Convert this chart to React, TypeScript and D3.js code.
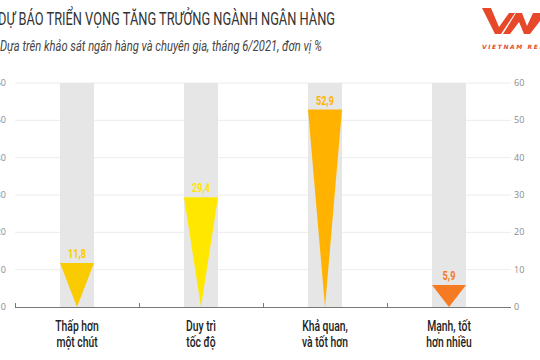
import React, { useEffect, useRef } from 'react';
import * as d3 from 'd3';

// data
const categories = [
  ['Thấp hơn', 'một chút'],
  ['Duy trì', 'tốc độ'],
  ['Khả quan,', 'và tốt hơn'],
  ['Mạnh, tốt', 'hơn nhiều'],
];
const values = [11.8, 29.4, 52.9, 5.9];
const valueLabels = ['11,8', '29,4', '52,9', '5,9'];
const colors = ['#f9cb00', '#ffe700', '#ffb300', '#f57a22'];
const yTicks = [0, 10, 20, 30, 40, 50, 60];

const W = 540;
const H = 360;
const font = "Roboto, 'Noto Sans', sans-serif";

const App: React.FC = () => {
  const ref = useRef<SVGSVGElement>(null);

  useEffect(() => {
    const svg = d3.select(ref.current);
    svg.selectAll('*').remove();

    const x = d3.scaleBand<number>().domain(d3.range(4)).range([15, 511]);
    const y = d3.scaleLinear().domain([0, 60]).range([307, 83]);
    const colW = x.bandwidth() * 0.274;
    const cx = (i: number) => x(i)! + x.bandwidth() / 2;

    // title + subtitle (condensed look via textLength)
    svg.append('text')
      .attr('x', -2).attr('y', 25)
      .attr('font-family', font).attr('font-size', 18.5)
      .attr('fill', '#333')
      .attr('textLength', 337).attr('lengthAdjust', 'spacingAndGlyphs')
      .text('DỰ BÁO TRIỂN VỌNG TĂNG TRƯỞNG NGÀNH NGÂN HÀNG');
    svg.append('text')
      .attr('x', 0).attr('y', 51)
      .attr('font-family', font).attr('font-size', 14)
      .attr('font-style', 'italic')
      .attr('fill', '#444')
      .attr('textLength', 322).attr('lengthAdjust', 'spacingAndGlyphs')
      .text('Dựa trên khảo sát ngân hàng và chuyên gia, tháng 6/2021, đơn vị %');

    // logo
    const logo = svg.append('g').attr('fill', '#e8482a');
    logo.append('path').attr('d', 'M482,8 L491,8 L499,27 L509,13 L515,13 L501,34 L495,34 Z');
    logo.append('path').attr('d', 'M503,34 L516,13 L522,13 L527,26 L533,13 L540,13 L540,21 L530,34 L524,34 L519,22 L510,34 Z');
    svg.append('text')
      .attr('x', 482).attr('y', 49)
      .attr('font-family', 'DejaVu Sans, sans-serif').attr('font-size', 6)
      .attr('font-weight', 'bold').attr('font-style', 'italic')
      .attr('letter-spacing', 1.6)
      .attr('fill', '#e8482a')
      .text('VIETNAM REPORT');

    // gridlines
    svg.append('g')
      .selectAll('line')
      .data(yTicks.filter(d => d > 0))
      .enter()
      .append('line')
      .attr('x1', 15).attr('x2', 511)
      .attr('y1', d => y(d)).attr('y2', d => y(d))
      .attr('stroke', '#ececec').attr('stroke-width', 1);

    // y labels, both sides
    const yLab = (xPos: number, anchor: string) =>
      svg.append('g')
        .selectAll('text')
        .data(yTicks)
        .enter()
        .append('text')
        .attr('x', xPos).attr('y', d => y(d) + 3)
        .attr('text-anchor', anchor)
        .attr('font-family', "'Open Sans', sans-serif").attr('font-size', 9)
        .attr('fill', '#8a8a8a')
        .text(d => d);
    yLab(6, 'end');
    yLab(514, 'start');

    // gray columns
    svg.append('g')
      .selectAll('rect')
      .data(values)
      .enter()
      .append('rect')
      .attr('x', (d, i) => cx(i) - colW / 2)
      .attr('y', y(60))
      .attr('width', colW)
      .attr('height', y(0) - y(60))
      .attr('fill', '#e6e6e6');

    // triangles
    svg.append('g')
      .selectAll('path')
      .data(values)
      .enter()
      .append('path')
      .attr('d', (d, i) => {
        const p = d3.path();
        p.moveTo(cx(i) - colW / 2, y(d));
        p.lineTo(cx(i) + colW / 2, y(d));
        p.lineTo(cx(i), y(0));
        p.closePath();
        return p.toString();
      })
      .attr('fill', (d, i) => colors[i]);

    // value labels
    svg.append('g')
      .selectAll('text')
      .data(values)
      .enter()
      .append('text')
      .attr('transform', (d, i) => `translate(${cx(i)},${y(d) - 5}) scale(0.68,1)`)
      .attr('text-anchor', 'middle')
      .attr('font-family', font).attr('font-size', 13.5).attr('font-weight', 'bold')
      .attr('fill', (d, i) => colors[i])
      .text((d, i) => valueLabels[i]);

    // x axis
    svg.append('line')
      .attr('x1', 15).attr('x2', 511)
      .attr('y1', 307.5).attr('y2', 307.5)
      .attr('stroke', '#777').attr('stroke-width', 1);
    svg.append('g')
      .selectAll('line')
      .data(d3.range(4))
      .enter()
      .append('line')
      .attr('x1', d => x(d)! + 0.5).attr('x2', d => x(d)! + 0.5)
      .attr('y1', 303).attr('y2', 308)
      .attr('stroke', '#777');

    // category labels
    const cat = svg.append('g')
      .selectAll('g')
      .data(categories)
      .enter()
      .append('g');
    [0, 1].forEach(line => {
      cat.append('text')
        .attr('transform', (d, i) => `translate(${cx(i)},${331 + line * 15.5}) scale(0.74,1)`)
        .attr('text-anchor', 'middle')
        .attr('font-family', font).attr('font-size', 14).attr('font-weight', 500)
        .attr('fill', '#222')
        .text(d => d[line]);
    });
  }, []);

  return (
    <svg ref={ref} width={W} height={H}
      style={{ position: 'absolute', left: 0, top: 0, background: '#fff' }} />
  );
};

export default App;
